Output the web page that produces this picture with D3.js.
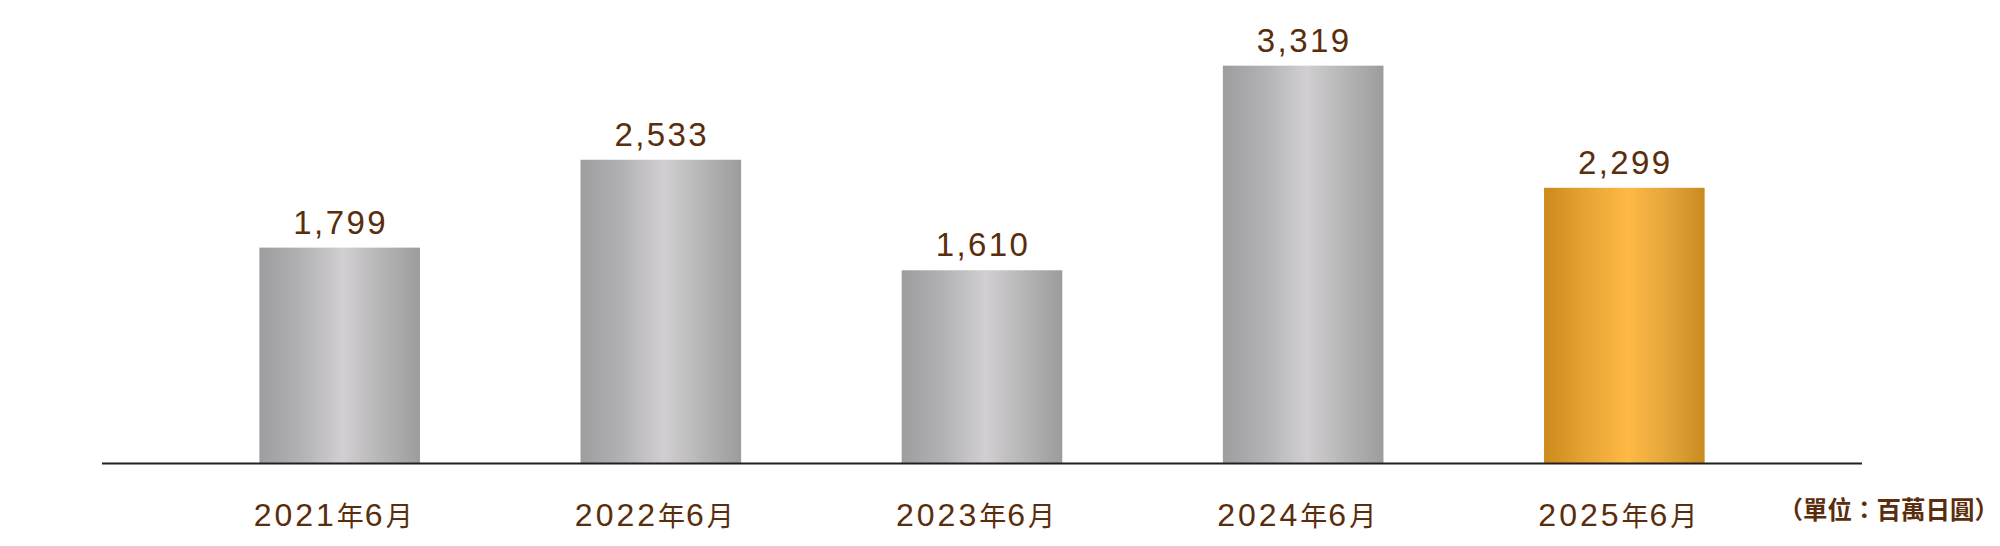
<!DOCTYPE html>
<html>
<head>
<meta charset="utf-8">
<script src="https://cdn.jsdelivr.net/npm/d3@7"></script>
<style>
  html, body { margin: 0; padding: 0; background: #fff; }
  svg { display: block; }
</style>
</head>
<body>
<div id="chart"></div>
<script>
// chart data
const periods = ['2021年6月', '2022年6月', '2023年6月', '2024年6月', '2025年6月'];
const values = [1799, 2533, 1610, 3319, 2299];
const unitLabel = '（單位：百萬日圓）';

const width = 2000;
const height = 546;
const textColor = '#5a2d0c';
const numFont = '"Liberation Sans", Arial, sans-serif';
const cjkFont = '"Noto Sans CJK TC", "Noto Sans CJK JP", sans-serif';

const svg = d3.select('#chart')
    .append('svg')
    .attr('width', width)
    .attr('height', height);

// gradients for the bars
const defs = svg.append('defs');
const grey = defs.append('linearGradient').attr('id', 'grey').attr('x1', 0).attr('x2', 1).attr('y1', 0).attr('y2', 0);
[['0%', '#9d9d9f'], ['25%', '#b1b0b2'], ['52%', '#d1cfd1'], ['78%', '#b4b3b4'], ['100%', '#9c9c9c']]
    .forEach(s => grey.append('stop').attr('offset', s[0]).attr('stop-color', s[1]));
const gold = defs.append('linearGradient').attr('id', 'gold').attr('x1', 0).attr('x2', 1).attr('y1', 0).attr('y2', 0);
[['0%', '#cc8a1c'], ['25%', '#e4a333'], ['52%', '#ffb945'], ['78%', '#e2a43a'], ['100%', '#c98a20']]
    .forEach(s => gold.append('stop').attr('offset', s[0]).attr('stop-color', s[1]));

const x = d3.scaleBand()
    .domain(periods)
    .range([102, 1862])
    .paddingInner(0.5)
    .paddingOuter(0.49);

const y = d3.scaleLinear()
    .domain([0, 3500])
    .range([463, 44]);

// bars
svg.append('g')
    .selectAll('rect')
    .data(values)
    .enter()
    .append('rect')
    .attr('x', (d, i) => x(periods[i]))
    .attr('y', d => y(d))
    .attr('width', x.bandwidth())
    .attr('height', d => y(0) - y(d))
    .attr('fill', (d, i) => i === values.length - 1 ? 'url(#gold)' : 'url(#grey)');

// baseline
svg.append('line')
    .attr('x1', 102)
    .attr('x2', 1862)
    .attr('y1', y(0) + 0.5)
    .attr('y2', y(0) + 0.5)
    .attr('stroke', '#231f20')
    .attr('stroke-width', 2);

// value labels
svg.append('g')
    .selectAll('text')
    .data(values)
    .enter()
    .append('text')
    .attr('x', (d, i) => x(periods[i]) + x.bandwidth() / 2 + 1)
    .attr('y', d => y(d) - 14)
    .attr('text-anchor', 'middle')
    .attr('font-family', numFont)
    .attr('font-size', 33)
    .attr('letter-spacing', 2.4)
    .attr('fill', textColor)
    .text(d => d3.format(',')(d));

// category labels: digits and CJK runs get their own size
const catText = svg.append('g')
    .selectAll('text')
    .data(periods)
    .enter()
    .append('text')
    .attr('x', d => x(d) + x.bandwidth() / 2 - 6)
    .attr('y', 526)
    .attr('text-anchor', 'middle')
    .attr('fill', textColor);

catText.selectAll('tspan')
    .data(d => d.match(/[0-9]+|[^0-9]+/g))
    .enter()
    .append('tspan')
    .attr('font-family', s => /[0-9]/.test(s) ? numFont : cjkFont)
    .attr('font-size', s => /[0-9]/.test(s) ? 32 : 27)
    .attr('letter-spacing', s => /[0-9]/.test(s) ? 3 : 1)
    .text(s => s);

// unit
svg.append('text')
    .attr('x', 1999)
    .attr('y', 519)
    .attr('text-anchor', 'end')
    .attr('font-family', cjkFont)
    .attr('font-weight', 'bold')
    .attr('font-size', 24.5)
    .attr('fill', textColor)
    .text(unitLabel);
</script>
</body>
</html>
